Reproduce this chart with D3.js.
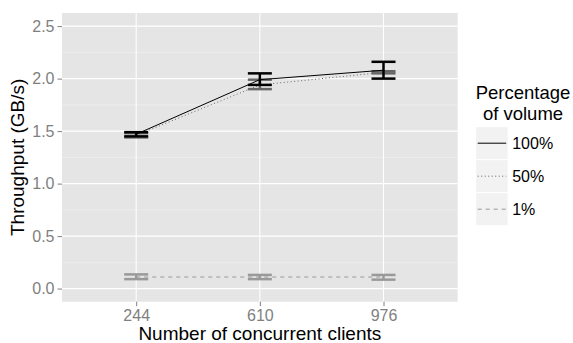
<!DOCTYPE html>
<html>
<head>
<meta charset="utf-8">
<script src="https://cdn.jsdelivr.net/npm/d3@7"></script>
<style>
  body { margin: 0; background: #fff; }
  text { font-family: "Liberation Sans", Arial, sans-serif; }
</style>
</head>
<body>
<div id="chart"></div>
<script>
// categories on the x axis
var clients = ["244", "610", "976"];
// legend order
var percents = ["100%", "50%", "1%"];

// mean throughput (GB/s) per percentage of volume
var mean100 = [1.47, 1.99, 2.08];
var min100  = [1.45, 1.94, 2.00];
var max100  = [1.49, 2.05, 2.16];

var mean50 = [1.46, 1.94, 2.06];
var min50  = [1.44, 1.90, 2.05];
var max50  = [1.48, 1.99, 2.07];

var mean1 = [0.11, 0.11, 0.11];
var min1  = [0.09, 0.09, 0.085];
var max1  = [0.135, 0.13, 0.13];

var yTicks = [0, 0.5, 1.0, 1.5, 2.0, 2.5];
var yMinor = [0.25, 0.75, 1.25, 1.75, 2.25];

function init(){
  var W = 573, H = 343;
  var left = 62, right = 457.7, top = 13, bottom = 301.7;

  var svg = d3.select("#chart").append("svg")
    .attr("width", W).attr("height", H);

  var x = d3.scalePoint().domain(clients).range([left, right]).padding(0.6);
  var y = d3.scaleLinear().domain([-0.125, 2.625]).range([bottom, top]);

  // panel
  svg.append("rect")
    .attr("x", left).attr("y", top)
    .attr("width", right - left).attr("height", bottom - top)
    .attr("fill", "#e5e5e5");

  // minor grid
  svg.selectAll(".minor").data(yMinor).enter().append("line")
    .attr("x1", left).attr("x2", right)
    .attr("y1", function(d){ return y(d); }).attr("y2", function(d){ return y(d); })
    .attr("stroke", "#f2f2f2").attr("stroke-width", 0.6);

  // major grid
  svg.selectAll(".majory").data(yTicks).enter().append("line")
    .attr("x1", left).attr("x2", right)
    .attr("y1", function(d){ return y(d); }).attr("y2", function(d){ return y(d); })
    .attr("stroke", "#fff").attr("stroke-width", 1.1);
  svg.selectAll(".majorx").data(clients).enter().append("line")
    .attr("y1", top).attr("y2", bottom)
    .attr("x1", function(d){ return x(d); }).attr("x2", function(d){ return x(d); })
    .attr("stroke", "#fff").attr("stroke-width", 1.1);

  // axes (ggplot look: grey ticks, no domain line)
  var yAxis = svg.append("g")
    .attr("transform", "translate(" + left + ",0)")
    .call(d3.axisLeft(y).tickValues(yTicks).tickFormat(d3.format(".1f")).tickSize(4.5).tickPadding(3));
  var xAxis = svg.append("g")
    .attr("transform", "translate(0," + bottom + ")")
    .call(d3.axisBottom(x).tickSize(4.5).tickPadding(3));
  [yAxis, xAxis].forEach(function(a){
    a.select(".domain").remove();
    a.selectAll("line").attr("stroke", "#7f7f7f");
    a.selectAll("text").attr("fill", "#7f7f7f")
      .style("font-size", "16px").style("font-family", "Liberation Sans, Arial, sans-serif");
  });

  var series = [
    {key: "1%",   mean: mean1,   lo: min1,   hi: max1,   color: "#999999", dash: "4,4"},
    {key: "50%",  mean: mean50,  lo: min50,  hi: max50,  color: "#666666", dash: "1,2.5"},
    {key: "100%", mean: mean100, lo: min100, hi: max100, color: "#000000", dash: null}
  ];

  var line = d3.line()
    .x(function(d, i){ return x(clients[i]); })
    .y(function(d){ return y(d); });

  var hw = 12;
  series.forEach(function(s){
    var g = svg.append("g");
    g.append("path")
      .attr("d", line(s.mean))
      .attr("fill", "none")
      .attr("stroke", s.color)
      .attr("stroke-width", 1)
      .attr("stroke-dasharray", s.dash);
    clients.forEach(function(c, i){
      var cx = x(c);
      var eb = g.append("g").attr("stroke", s.color).attr("stroke-width", 2.5);
      eb.append("line").attr("x1", cx - hw).attr("x2", cx + hw)
        .attr("y1", y(s.hi[i])).attr("y2", y(s.hi[i]));
      eb.append("line").attr("x1", cx - hw).attr("x2", cx + hw)
        .attr("y1", y(s.lo[i])).attr("y2", y(s.lo[i]));
      eb.append("line").attr("x1", cx).attr("x2", cx)
        .attr("y1", y(s.hi[i])).attr("y2", y(s.lo[i]));
    });
  });

  // axis titles
  svg.append("text")
    .attr("x", (left + right) / 2).attr("y", 340)
    .attr("text-anchor", "middle")
    .style("font-size", "19px")
    .text("Number of concurrent clients");
  svg.append("text")
    .attr("transform", "translate(24," + ((top + bottom) / 2) + ") rotate(-90)")
    .attr("text-anchor", "middle")
    .style("font-size", "19px")
    .text("Throughput (GB/s)");

  // legend
  var lx = 475.7, ly = 126.7, kw = 32.5, kh = 33;
  svg.append("text")
    .attr("x", 523).attr("y", 99)
    .attr("text-anchor", "middle")
    .style("font-size", "18.5px")
    .text("Percentage");
  svg.append("text")
    .attr("x", 523).attr("y", 120)
    .attr("text-anchor", "middle")
    .style("font-size", "18.5px")
    .text("of volume");

  var legendSeries = percents.map(function(p){
    return series.filter(function(s){ return s.key === p; })[0];
  });
  var items = svg.selectAll(".leg").data(legendSeries).enter().append("g")
    .attr("transform", function(d, i){ return "translate(" + lx + "," + (ly + i * kh) + ")"; });
  items.append("rect")
    .attr("width", kw).attr("height", kh)
    .attr("fill", "#f2f2f2").attr("stroke", "#fff").attr("stroke-width", 1);
  items.append("line")
    .attr("x1", 2).attr("x2", kw - 2)
    .attr("y1", kh / 2).attr("y2", kh / 2)
    .attr("stroke", function(d){ return d.color; })
    .attr("stroke-width", 1)
    .attr("stroke-dasharray", function(d){ return d.dash; });
  items.append("text")
    .attr("x", kw + 4).attr("y", kh / 2)
    .attr("dy", "0.35em")
    .style("font-size", "16px")
    .text(function(d){ return d.key; });
}
window.onload = init;
</script>
</body>
</html>
